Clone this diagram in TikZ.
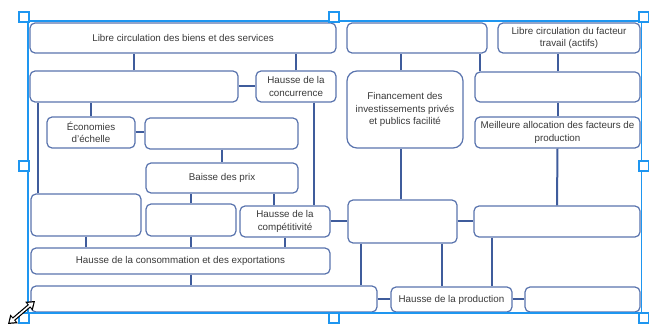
\documentclass[tikz,border=0pt]{standalone}
\usepackage{fontspec}
\setmainfont{Liberation Sans}
\usetikzlibrary{calc,arrows.meta}
\definecolor{boxline}{HTML}{5A74AE}
\definecolor{conn}{HTML}{3F5C9C}
\definecolor{sel}{HTML}{1E96F0}
\definecolor{txt}{HTML}{3A3A3A}
\tikzset{
  box/.style={draw=boxline, line width=1.2pt, rounded corners=5pt, fill=white, inner sep=1pt,
    align=center, font=\fontsize{9.8}{12.3}\selectfont, text=txt},
  link/.style={draw=conn, line width=2pt},
  handle/.style={draw=sel, line width=1.2pt, fill=white, minimum size=10pt, inner sep=0pt},
}
\newcommand{\bx}[7][]{\node[box,#1, minimum width=#4pt, minimum height=#5pt] (#2) at (#3) {#6};}
\begin{document}
\begin{tikzpicture}[x=1pt,y=-1pt]
\useasboundingbox (0,0) rectangle (649,326);
% boxes
\bx{A}{183,38}{306}{30}{Libre circulation des biens et des services}{}
\bx{B}{134,86.5}{208}{31}{}{}
\bx{C}{296,86.5}{80}{31}{Hausse de la\\concurrence}{}
\bx{D}{91,132.5}{88}{31}{Économies\\d'échelle}{}
\bx{E}{221.5,133.5}{153}{31}{}{}
\bx{F}{222,178}{152}{30}{Baisse des prix}{}
\bx{G}{86,215}{110}{42}{}{}
\bx{H}{191,220}{90}{32}{}{}
\bx{I}{285,221.5}{90}{31}{Hausse de la\\compétitivité}{}
\bx{J}{180.5,261}{299}{26}{Hausse de la consommation et des exportations}{}
\bx{K}{204,299}{346}{26}{}{}
\bx{M}{402.5,221.5}{109}{43}{}{}
\bx{N}{557,221.5}{166}{31}{}{}
\bx{P}{451.5,299.5}{121}{25}{Hausse de la production}{}
\bx{Q}{582.5,299.5}{115}{25}{}{}
\bx{R}{417,38}{140}{30}{}{}
\bx{S}{569,38}{142}{30}{Libre circulation du facteur\\travail (actifs)}{}
\bx[rounded corners=10pt]{T}{405,109.5}{116}{77}{Financement des\\investissements privés\\et publics facilité}{}
\bx{U}{557.5,87}{165}{30}{}{}
\bx{V}{557.5,132.5}{165}{31}{Meilleure allocation des facteurs de\\production}{}
% connectors
\path[link] (B.north) -- (B.north |- A.south);
\path[link] (C.north) -- (C.north |- A.south);
\path[link] (B.east) -- (C.west);
\path[link] ([xshift=9pt]B.south west) -- ([xshift=9pt]B.south west |- G.north);
\path[link] (D.north) -- (D.north |- B.south);
\path[link] ([xshift=-23pt]C.south east) -- ([xshift=-23pt]C.south east |- I.north);
\path[link] (D.east) -- (D.east -| E.west);
\path[link] (E.south) -- (E.south |- F.north);
\path[link] (H.north) -- (H.north |- F.south);
\path[link] ([xshift=-11pt]I.north) -- ([xshift=-11pt]I.north |- F.south);
\path[link] (G.south) -- (G.south |- J.north);
\path[link] (H.south) -- (H.south |- J.north);
\path[link] (I.south) -- (I.south |- J.north);
\path[link] (J.south -| H.south) -- (K.north -| H.south);
\path[link] (I.east) -- (I.east -| M.west);
\path[link] (M.east) -- (M.east -| N.west);
\path[link] (K.east) -- (K.east -| P.west);
\path[link] (P.east) -- (P.east -| Q.west);
\path[link] ([xshift=14pt]M.south west) -- ([xshift=14pt]M.south west |- K.north);
\path[link] ([xshift=-16pt]M.south east) -- ([xshift=-16pt]M.south east |- P.north);
\path[link] ([xshift=19pt]N.south west) -- ([xshift=19pt]N.south west |- P.north);
\path[link] ([xshift=-1.5pt]M.north) -- ([xshift=-1.5pt]M.north |- T.south);
\path[link] ([xshift=-4pt]T.north) -- ([xshift=-4pt]T.north |- R.south);
\path[link] ([xshift=6pt]U.north west) -- ([xshift=6pt]U.north west |- R.south);
\path[link] (U.north) -- (U.north |- S.south);
\path[link] (U.south) -- (V.north);
\path[link] (V.south) -- (N.north);
% selection frame
\coordinate (f1) at (28,21);
\coordinate (f2) at (641.5,313);
\draw[sel, line width=1.2pt] (f1) rectangle (f2);
\foreach \n/\p in {h1/{24,17},h2/{334,17},h3/{644,17},h4/{24,166},h5/{644,166},h6/{24,318},h7/{334,318},h8/{644,318}}
  \node[handle] (\n) at (\p) {};
% resize cursor
\coordinate (c1) at (8,324);
\coordinate (c2) at (35,301);
\draw[black, line width=4pt, {Triangle[length=8pt,width=11pt]}-{Triangle[length=8pt,width=11pt]}] (c1) -- (c2);
\draw[white, line width=1.6pt, {Triangle[length=5pt,width=6.5pt]}-{Triangle[length=5pt,width=6.5pt]}, shorten <=2pt, shorten >=2pt] (c1) -- (c2);
\end{tikzpicture}
\end{document}
